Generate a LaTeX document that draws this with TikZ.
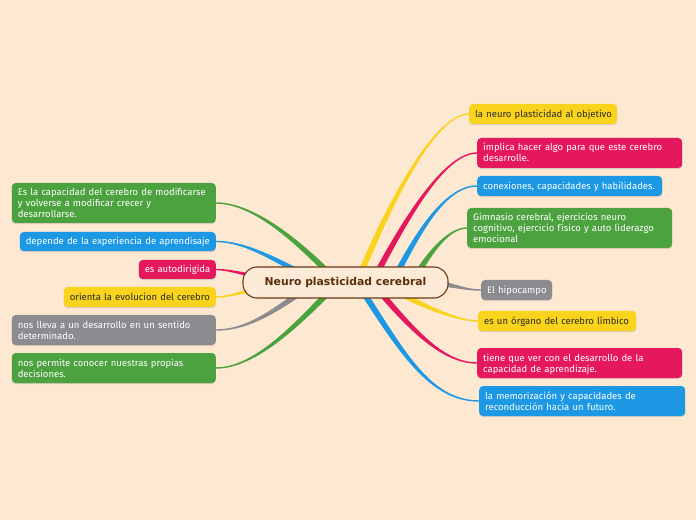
\documentclass[tikz,border=0pt]{standalone}
\usepackage{fontspec}
\setmainfont{Fira Sans}
\newfontfamily\rootfont{DejaVu Sans}
\usetikzlibrary{calc}
\definecolor{bgc}{HTML}{FDE8D2}
\definecolor{rootfill}{HTML}{FDEBD8}
\definecolor{rootbrd}{HTML}{6B3A12}
\definecolor{roottxt}{HTML}{5A2D0C}
\definecolor{mmgreen}{HTML}{4CA23F}
\definecolor{mmblue}{HTML}{1C98E5}
\definecolor{mmpink}{HTML}{E5185D}
\definecolor{mmyellow}{HTML}{F9D31C}
\definecolor{mmgray}{HTML}{8C8C90}
\definecolor{darktxt}{HTML}{2A2A2A}
\pgfdeclarelayer{bglayer}
\pgfdeclarelayer{linklayer}
\pgfsetlayers{bglayer,linklayer,main}
\def\mmwa{3pt}
\def\mmwb{0.7pt}
\newcommand\mmtxt[1]{\raisebox{0pt}[\dimexpr\height+2.6pt\relax][\depth]{\begin{tabular}{@{}l@{}}#1\end{tabular}}}
\newcommand\mmlink[6]{%
  \path ($(root.center)+(#2,0)$) coordinate (bS);
  \path ($(bS)+(#3:#4)$) coordinate (bC);
  \path ($(#6)+(#5,0)$) coordinate (bD);
  \path (#6) coordinate (bE);
  \path ($(bS)!\mmwa!90:(bC)$) coordinate (bSa) ($(bS)!\mmwa!-90:(bC)$) coordinate (bSb)
        ($(bE)!\mmwb!-90:(bD)$) coordinate (bEa) ($(bE)!\mmwb!90:(bD)$) coordinate (bEb);
  \fill[#1] (bSa) .. controls ($(bC)+(bSa)-(bS)$) and ($(bD)+(bEa)-(bE)$) .. (bEa)
     -- (bEb) .. controls ($(bD)+(bEb)-(bE)$) and ($(bC)+(bSb)-(bS)$) .. (bSb) -- cycle;
}
\tikzset{
  mmbox/.style={rounded corners=4pt, inner xsep=6pt, inner ysep=0pt, align=left,
    font=\fontsize{9.5}{11}\selectfont, text=white,
    preaction={fill=black!45, fill opacity=.3, transform canvas={yshift=-1.2pt}}},
  gbox/.style={mmbox, fill=mmgreen},
  bbox/.style={mmbox, fill=mmblue},
  pbox/.style={mmbox, fill=mmpink},
  ybox/.style={mmbox, fill=mmyellow, text=darktxt},
  grbox/.style={mmbox, fill=mmgray},
}
\begin{document}
\begin{tikzpicture}[x=1pt,y=1pt]
\useasboundingbox (0,0) rectangle (696,520);
\begin{pgfonlayer}{bglayer}
\fill[bgc] (0,0) rectangle (696,520);
\end{pgfonlayer}

\node[draw=rootbrd, fill=rootfill, line width=1.1pt, rounded corners=14pt,
  minimum width=205pt, minimum height=31pt,
  font=\rootfont\bfseries\fontsize{10.8}{12}\selectfont, text=roottxt] (root) at (345.5,237.5) {Neuro plasticidad cerebral};

% left
\node[gbox, anchor=east, minimum width=204pt, text width=192pt, minimum height=40pt] (l1) at (216,317)
  {\mmtxt{Es la capacidad del cerebro de modificarse\\y volverse a modificar crecer y\\desarrollarse.}};
\node[bbox, anchor=east, minimum width=196pt, text width=184pt, minimum height=19pt] (l2) at (216,278.5)
  {\mmtxt{depende de la experiencia de aprendisaje}};
\node[pbox, anchor=east, minimum width=77pt, text width=65pt, minimum height=19pt] (l3) at (216,250.5)
  {\mmtxt{es autodirigida}};
\node[ybox, anchor=east, minimum width=152pt, text width=140pt, minimum height=20pt] (l4) at (216,223)
  {\mmtxt{orienta la evolucion del cerebro}};
\node[grbox, anchor=east, minimum width=204pt, text width=192pt, minimum height=30pt] (l5) at (216,190)
  {\mmtxt{nos lleva a un desarrollo en un sentido\\determinado.}};
\node[gbox, anchor=east, minimum width=204pt, text width=192pt, minimum height=30pt] (l6) at (216,152)
  {\mmtxt{nos permite conocer nuestras propias\\decisiones.}};

% right
\node[ybox, anchor=west, minimum width=148pt, text width=136pt, minimum height=20pt] (r1) at (469,406)
  {\mmtxt{la neuro plasticidad al objetivo}};
\node[pbox, anchor=west, minimum width=205pt, text width=193pt, minimum height=30pt] (r2) at (477,367)
  {\mmtxt{implica hacer algo para que este cerebro\\desarrolle.}};
\node[bbox, anchor=west, minimum width=185pt, text width=173pt, minimum height=20pt] (r3) at (477,334)
  {\mmtxt{conexiones, capacidades y habilidades.}};
\node[gbox, anchor=west, minimum width=205pt, text width=193pt, minimum height=40pt] (r4) at (467,292)
  {\mmtxt{Gimnasio cerebral, ejercicios neuro\\cognitivo, ejercicio físico y auto liderazgo\\emocional}};
\node[grbox, anchor=west, minimum width=71pt, text width=59pt, minimum height=20pt] (r5) at (481,230)
  {\mmtxt{El hipocampo}};
\node[ybox, anchor=west, minimum width=158pt, text width=146pt, minimum height=20pt] (r6) at (478,199)
  {\mmtxt{es un órgano del cerebro límbico}};
\node[pbox, anchor=west, minimum width=205pt, text width=193pt, minimum height=30pt] (r7) at (477,157)
  {\mmtxt{tiene que ver con el desarrollo de la\\capacidad de aprendizaje.}};
\node[bbox, anchor=west, minimum width=206pt, text width=194pt, minimum height=30pt] (r8) at (479,119)
  {\mmtxt{la memorización y capacidades de\\reconducción hacia un futuro.}};

\begin{pgfonlayer}{linklayer}
\mmlink{mmyellow}{11.5}{68}{80}{-35}{r1.west}
\mmlink{mmpink}{26.5}{62}{60}{-35}{r2.west}
\mmlink{mmblue}{46.5}{62}{45}{-35}{r3.west}
\mmlink{mmgreen}{66.5}{60}{30}{-20}{r4.west}
\mmlink{mmgray}{75}{0}{30}{-20}{r5.west}
\mmlink{mmyellow}{34.5}{-30}{40}{-23}{r6.west}
\mmlink{mmpink}{26.5}{-50}{60}{-35}{r7.west}
\mmlink{mmblue}{11.5}{-57}{80}{-50}{r8.west}
\mmlink{mmgreen}{-7.5}{134}{50}{40}{l1.east}
\mmlink{mmblue}{-25.5}{155}{40}{34}{l2.east}
\mmlink{mmpink}{-45.5}{178}{35}{19}{l3.east}
\mmlink{mmyellow}{-45.5}{182}{35}{19}{l4.east}
\mmlink{mmgray}{-30.5}{215}{45}{34}{l5.east}
\mmlink{mmgreen}{-7.5}{226}{55}{40}{l6.east}
\end{pgfonlayer}
\end{tikzpicture}
\end{document}
